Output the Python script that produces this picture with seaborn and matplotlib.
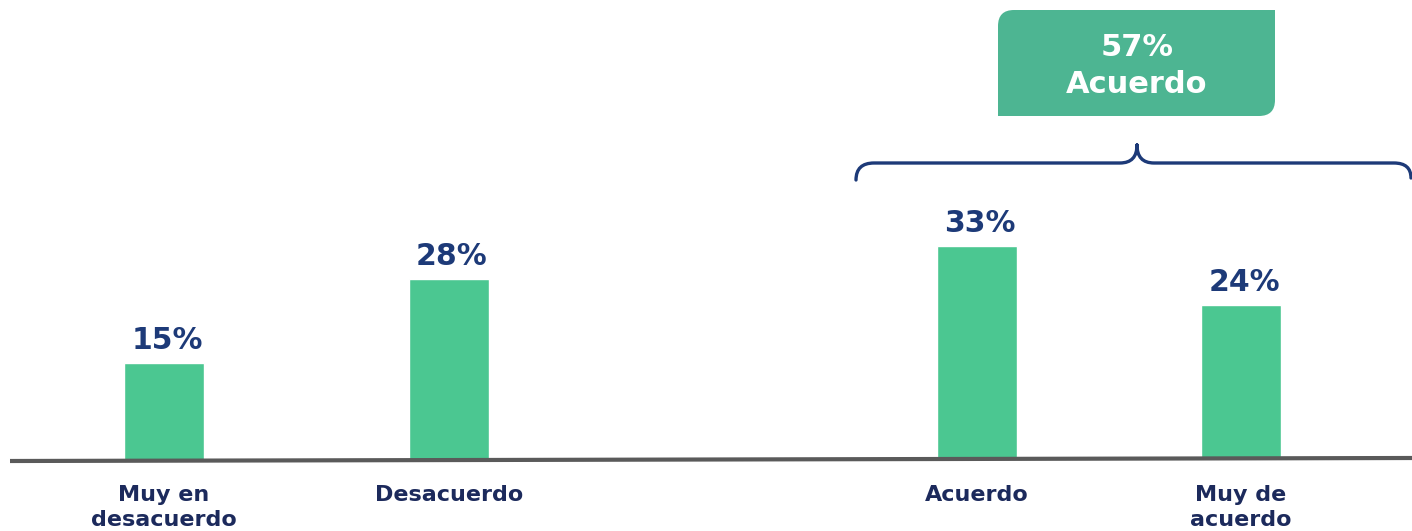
import matplotlib
matplotlib.use("Agg")
import matplotlib.pyplot as plt
from matplotlib.path import Path
from matplotlib.patches import PathPatch
from matplotlib.transforms import Affine2D
import seaborn as sns

# data
categories = ["Muy en\ndesacuerdo", "Desacuerdo", "Acuerdo", "Muy de\nacuerdo"]
values = [15, 28, 33, 24]
total_label = "57%\nAcuerdo"

# layout (pixel centres of the bars, gap between the two groups)
x_pos = [164, 449, 977, 1241]
px_per_pct = 6.47
base_y = 460

navy = "#1d3a78"
navy_dark = "#1c2a5c"
green_bar = "#4bc791"
green_box = "#4db592"

sns.set_theme(style="white")
plt.rcParams["font.family"] = ["DejaVu Sans"]

fig = plt.figure(figsize=(14.12, 5.31), dpi=100)
ax = fig.add_axes([0, 0, 1, 1])
sns.barplot(x=x_pos, y=values, native_scale=True, width=80 / 264,
            color=green_bar, saturation=1, ax=ax)
ax.set_xlim(0, 1412)
ax.set_ylim(-(531 - base_y) / px_per_pct, base_y / px_per_pct)
ax.axis("off")

# pixel transform (origin top-left)
px = Affine2D().scale(1 / 1412, -1 / 531).translate(0, 1) + fig.transFigure

# baseline
ax.plot([10, 1412], [461, 458], color="#5a5a5a", lw=3, transform=px,
        solid_capstyle="butt", zorder=3)

# value labels
for x, v in zip(x_pos, values):
    ax.text(x + 3, v + 8 / px_per_pct, f"{v}%", ha="center", va="bottom",
            fontsize=21.5, fontweight="bold", color=navy)

# category labels
for x, c in zip(x_pos, categories):
    ax.text(x, 485, c, ha="center", va="top", fontsize=16, fontweight="bold",
            color=navy_dark, linespacing=1.3, transform=px)

# box with total
x0, x1, y0, y1, r = 998, 1275, 10, 116, 16
verts = [(x0, y1), (x0, y0 + r), (x0, y0), (x0 + r, y0), (x1, y0),
         (x1, y1 - r), (x1, y1), (x1 - r, y1), (x0, y1)]
codes = [Path.MOVETO, Path.LINETO, Path.CURVE3, Path.CURVE3, Path.LINETO,
         Path.LINETO, Path.CURVE3, Path.CURVE3, Path.CLOSEPOLY]
ax.add_patch(PathPatch(Path(verts, codes), facecolor=green_box,
                       edgecolor="none", transform=px, clip_on=False))
ax.text(1137, 66, total_label, ha="center", va="center", fontsize=22,
        fontweight="bold", color="white", linespacing=1.35, transform=px)

# brace
bverts = [(856, 180), (856, 163), (874, 163), (1120, 163), (1137, 163), (1137, 145),
          (1137, 145), (1137, 163), (1154, 163), (1394, 163), (1411, 163), (1411, 178)]
bcodes = [Path.MOVETO, Path.CURVE3, Path.CURVE3, Path.LINETO, Path.CURVE3, Path.CURVE3,
          Path.MOVETO, Path.CURVE3, Path.CURVE3, Path.LINETO, Path.CURVE3, Path.CURVE3]
ax.add_patch(PathPatch(Path(bverts, bcodes), facecolor="none", edgecolor=navy,
                       lw=2.4, capstyle="round", transform=px, clip_on=False))

fig.savefig("out.png", dpi=100)
